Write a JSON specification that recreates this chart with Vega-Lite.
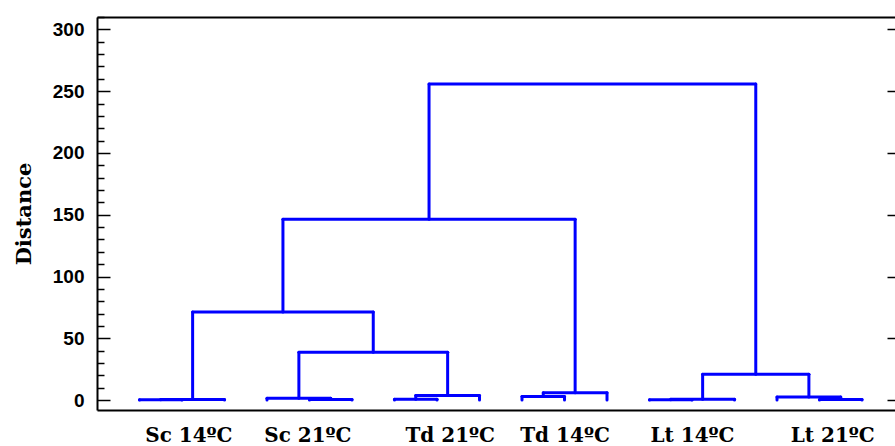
{
  "$schema": "https://vega.github.io/schema/vega-lite/v6.json",
  "autosize": {"type": "none"},
  "padding": {"left": 97, "top": 17, "right": 0, "bottom": 36},
  "width": 798,
  "height": 393,
  "background": "white",
  "config": {"view": {"stroke": null}},
  "datasets": {
    "links": [
      {"x": 1, "x2": 2, "y": 0.2, "y2": 0.2}, {"x": 1, "x2": 1, "y": 0, "y2": 0.2}, {"x": 2, "x2": 2, "y": 0, "y2": 0.2},
      {"x": 1.5, "x2": 3, "y": 0.5, "y2": 0.5}, {"x": 1.5, "x2": 1.5, "y": 0.2, "y2": 0.5}, {"x": 3, "x2": 3, "y": 0, "y2": 0.5},
      {"x": 5, "x2": 6, "y": 0.5, "y2": 0.5}, {"x": 5, "x2": 5, "y": 0, "y2": 0.5}, {"x": 6, "x2": 6, "y": 0, "y2": 0.5},
      {"x": 4, "x2": 5.5, "y": 1.6, "y2": 1.6}, {"x": 4, "x2": 4, "y": 0, "y2": 1.6}, {"x": 5.5, "x2": 5.5, "y": 0.5, "y2": 1.6},
      {"x": 7, "x2": 8, "y": 0.6, "y2": 0.6}, {"x": 7, "x2": 7, "y": 0, "y2": 0.6}, {"x": 8, "x2": 8, "y": 0, "y2": 0.6},
      {"x": 7.5, "x2": 9, "y": 3.8, "y2": 3.8}, {"x": 7.5, "x2": 7.5, "y": 0.6, "y2": 3.8}, {"x": 9, "x2": 9, "y": 0, "y2": 3.8},
      {"x": 10, "x2": 11, "y": 3, "y2": 3}, {"x": 10, "x2": 10, "y": 0, "y2": 3}, {"x": 11, "x2": 11, "y": 0, "y2": 3},
      {"x": 10.5, "x2": 12, "y": 6, "y2": 6}, {"x": 10.5, "x2": 10.5, "y": 3, "y2": 6}, {"x": 12, "x2": 12, "y": 0, "y2": 6},
      {"x": 13, "x2": 14, "y": 0.3, "y2": 0.3}, {"x": 13, "x2": 13, "y": 0, "y2": 0.3}, {"x": 14, "x2": 14, "y": 0, "y2": 0.3},
      {"x": 13.5, "x2": 15, "y": 0.6, "y2": 0.6}, {"x": 13.5, "x2": 13.5, "y": 0.3, "y2": 0.6}, {"x": 15, "x2": 15, "y": 0, "y2": 0.6},
      {"x": 17, "x2": 18, "y": 0.5, "y2": 0.5}, {"x": 17, "x2": 17, "y": 0, "y2": 0.5}, {"x": 18, "x2": 18, "y": 0, "y2": 0.5},
      {"x": 16, "x2": 17.5, "y": 2.5, "y2": 2.5}, {"x": 16, "x2": 16, "y": 0, "y2": 2.5}, {"x": 17.5, "x2": 17.5, "y": 0.5, "y2": 2.5},
      {"x": 4.75, "x2": 8.25, "y": 38.8, "y2": 38.8}, {"x": 4.75, "x2": 4.75, "y": 1.6, "y2": 38.8}, {"x": 8.25, "x2": 8.25, "y": 3.8, "y2": 38.8},
      {"x": 2.25, "x2": 6.5, "y": 71.2, "y2": 71.2}, {"x": 2.25, "x2": 2.25, "y": 0.5, "y2": 71.2}, {"x": 6.5, "x2": 6.5, "y": 38.8, "y2": 71.2},
      {"x": 4.375, "x2": 11.25, "y": 146.4, "y2": 146.4}, {"x": 4.375, "x2": 4.375, "y": 71.2, "y2": 146.4}, {"x": 11.25, "x2": 11.25, "y": 6, "y2": 146.4},
      {"x": 14.25, "x2": 16.75, "y": 21, "y2": 21}, {"x": 14.25, "x2": 14.25, "y": 0.6, "y2": 21}, {"x": 16.75, "x2": 16.75, "y": 2.5, "y2": 21},
      {"x": 7.8125, "x2": 15.5, "y": 255.7, "y2": 255.7}, {"x": 7.8125, "x2": 7.8125, "y": 146.4, "y2": 255.7}, {"x": 15.5, "x2": 15.5, "y": 21, "y2": 255.7}
    ]
  },
  "data": {"name": "links"},
  "resolve": {"axis": {"x": "independent", "y": "independent"}},
  "layer": [
    {
      "mark": {"type": "rule", "color": "#0000ff", "strokeWidth": 3, "strokeCap": "round"},
      "encoding": {
        "x": {
          "field": "x", "type": "quantitative",
          "scale": {"domain": [0, 18.776], "nice": false, "zero": false},
          "axis": {
            "orient": "bottom", "title": null, "ticks": false, "grid": false,
            "values": [2.15, 4.95, 8.3, 11, 14, 17.3],
            "labelExpr": "datum.value < 3 ? 'Sc 14ºC' : datum.value < 6 ? 'Sc 21ºC' : datum.value < 9 ? 'Td 21ºC' : datum.value < 12 ? 'Td 14ºC' : datum.value < 15 ? 'Lt 14ºC' : 'Lt 21ºC'",
            "labelFont": "DejaVu Serif", "labelFontWeight": "bold", "labelFontSize": 20,
            "labelColor": "black", "labelPadding": 15, "labelFlush": false, "labelOverlap": false,
            "domainColor": "black", "domainWidth": 2
          }
        },
        "x2": {"field": "x2"},
        "y": {
          "field": "y", "type": "quantitative",
          "scale": {"domain": [-8, 310], "nice": false, "zero": false},
          "axis": {
            "orient": "left", "title": "Distance", "grid": false,
            "values": [0, 10, 20, 30, 40, 50, 60, 70, 80, 90, 100, 110, 120, 130, 140, 150, 160, 170, 180, 190, 200, 210, 220, 230, 240, 250, 260, 270, 280, 290, 300, 310],
            "labelExpr": "datum.value % 50 === 0 ? datum.label : ''",
            "tickSize": {"condition": {"test": "datum.value % 50 === 0", "value": -13}, "value": -7},
            "tickColor": "black", "tickWidth": 1.5,
            "labelPadding": 26, "labelFont": "Liberation Sans", "labelFontWeight": "bold",
            "labelFontSize": 19, "labelColor": "black", "labelOverlap": false, "labelFlush": false,
            "domainColor": "black", "domainWidth": 2,
            "titleFont": "DejaVu Serif", "titleFontWeight": "bold", "titleFontSize": 21,
            "titleColor": "black", "titlePadding": 18
          }
        },
        "y2": {"field": "y2"}
      }
    },
    {
      "mark": {"type": "rule", "opacity": 0},
      "encoding": {
        "x": {
          "field": "x", "type": "quantitative",
          "axis": {"orient": "top", "title": null, "ticks": false, "labels": false, "grid": false, "domainColor": "black", "domainWidth": 2}
        },
        "x2": {"field": "x2"},
        "y": {
          "field": "y", "type": "quantitative",
          "axis": {
            "orient": "right", "title": null, "labels": false, "grid": false, "domain": false,
            "values": [0, 50, 100, 150, 200, 250, 300],
            "tickSize": -8, "tickColor": "black", "tickWidth": 1.5
          }
        },
        "y2": {"field": "y2"}
      }
    }
  ]
}
